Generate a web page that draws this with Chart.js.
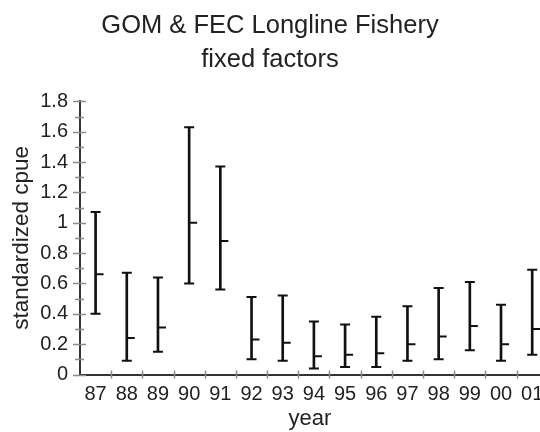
<!DOCTYPE html>
<html>
<head>
<meta charset="utf-8">
<script src="https://cdn.jsdelivr.net/npm/chart.js@4/dist/chart.umd.min.js"></script>
<style>
  html, body { margin: 0; padding: 0; background: #fff; overflow: hidden; }
  #wrap { width: 540px; height: 432px; }
</style>
</head>
<body>
<div id="wrap"><canvas id="cpueChart" width="540" height="432"></canvas></div>
<script>
// year labels and standardized cpue with its lower / upper limits
var years = ['87', '88', '89', '90', '91', '92', '93', '94', '95', '96', '97', '98', '99', '00', '01'];
var cpue  = [0.66, 0.24, 0.31, 1.00, 0.88, 0.23, 0.21, 0.12, 0.13, 0.14, 0.20, 0.25, 0.32, 0.20, 0.30];
var lower = [0.40, 0.09, 0.15, 0.60, 0.56, 0.10, 0.09, 0.04, 0.05, 0.05, 0.09, 0.10, 0.16, 0.09, 0.13];
var upper = [1.07, 0.67, 0.64, 1.63, 1.37, 0.51, 0.52, 0.35, 0.33, 0.38, 0.45, 0.57, 0.61, 0.46, 0.69];
var yLabels = [0, 0.2, 0.4, 0.6, 0.8, 1, 1.2, 1.4, 1.6, 1.8];

var ranges = years.map(function (y, i) {
    return { x: i, y: [lower[i], upper[i]] };
});

// caps, estimate marks and the small axis ticks
var errorBars = {
    id: 'errorBars',
    afterDraw: function (chart) {
        var ctx = chart.ctx;
        var xs = chart.scales.x, ys = chart.scales.y;
        var area = chart.chartArea;
        ctx.save();

        ctx.strokeStyle = '#8a8a8a';
        ctx.lineWidth = 1.5;
        for (var k = 0; k <= 18; k++) {
            var py = Math.round(ys.getPixelForValue(k / 10)) + 0.5;
            var major = k % 2 === 0;
            ctx.beginPath();
            ctx.moveTo(area.left - (major ? 7 : 5), py);
            ctx.lineTo(area.left + (major ? 6 : 4), py);
            ctx.stroke();
        }
        for (var b = 1; b <= years.length; b++) {
            var bx = Math.round(xs.getPixelForValue(b - 0.5)) + 0.5;
            ctx.beginPath();
            ctx.moveTo(bx, area.bottom - 4);
            ctx.lineTo(bx, area.bottom + 4);
            ctx.stroke();
        }

        ctx.strokeStyle = '#111';
        ctx.lineWidth = 2;
        years.forEach(function (y, i) {
            var px = xs.getPixelForValue(i);
            var top = ys.getPixelForValue(upper[i]);
            var bot = ys.getPixelForValue(lower[i]);
            var mid = ys.getPixelForValue(cpue[i]);
            ctx.beginPath();
            ctx.moveTo(px - 5, top); ctx.lineTo(px + 5, top);
            ctx.moveTo(px - 5, bot); ctx.lineTo(px + 5, bot);
            ctx.moveTo(px, mid); ctx.lineTo(px + 8, mid);
            ctx.stroke();
        });
        ctx.restore();
    }
};

new Chart(document.getElementById('cpueChart'), {
    type: 'bar',
    data: {
        datasets: [{
            label: 'standardized cpue',
            data: ranges,
            backgroundColor: '#111',
            borderWidth: 0,
            barThickness: 2
        }]
    },
    options: {
        responsive: false,
        animation: false,
        layout: { padding: 0 },
        plugins: {
            legend: { display: false },
            tooltip: { enabled: false },
            title: {
                display: true,
                text: ['GOM & FEC Longline Fishery', 'fixed factors'],
                color: '#222',
                font: { family: 'Liberation Sans', size: 25.5, weight: 'normal', lineHeight: 1.34 },
                padding: { top: 8.5, bottom: 24.5 }
            }
        },
        scales: {
            x: {
                type: 'linear',
                offset: false,
                min: -0.5,
                max: 14.25,
                grid: { display: false, drawTicks: false },
                border: { display: true, color: '#333', width: 2 },
                ticks: {
                    stepSize: 1,
                    includeBounds: false,
                    autoSkip: false,
                    maxRotation: 0,
                    padding: 8,
                    color: '#222',
                    font: { family: 'Liberation Sans', size: 20 },
                    callback: function (v) { return years[v] !== undefined ? years[v] : ''; }
                },
                title: {
                    display: true,
                    text: 'year',
                    color: '#222',
                    font: { family: 'Liberation Sans', size: 22 },
                    padding: { top: 0, bottom: 0 }
                },
                afterFit: function (scale) {
                    scale.height = 57.5;
                    scale.paddingRight = 0;
                    scale.paddingLeft = 0;
                }
            },
            y: {
                min: 0,
                max: 1.8,
                grid: { display: false, drawTicks: false },
                border: { display: true, color: '#333', width: 2 },
                afterBuildTicks: function (scale) {
                    scale.ticks = yLabels.map(function (v) { return { value: v }; });
                },
                ticks: {
                    padding: 12,
                    color: '#222',
                    font: { family: 'Liberation Sans', size: 20 },
                    callback: function (v) { return String(v); }
                },
                title: {
                    display: true,
                    text: 'standardized cpue',
                    color: '#222',
                    font: { family: 'Liberation Sans', size: 22.5 },
                    padding: { top: 8, bottom: 0 }
                },
                afterFit: function (scale) {
                    scale.width = 80;
                }
            }
        }
    },
    plugins: [errorBars]
});
</script>
</body>
</html>
